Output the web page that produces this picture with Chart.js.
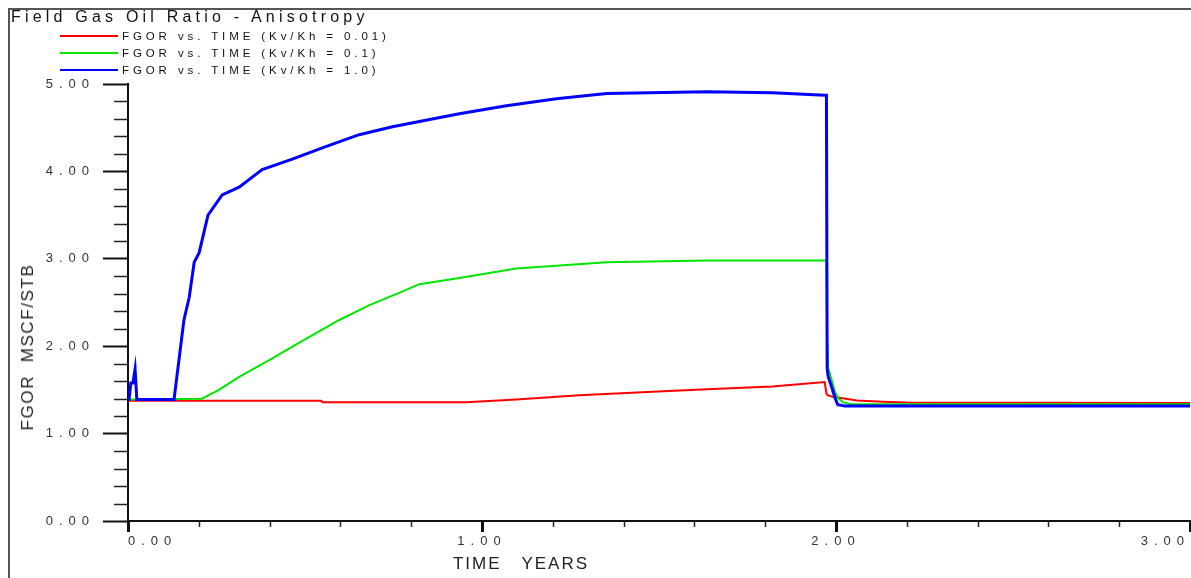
<!DOCTYPE html>
<html>
<head>
<meta charset="utf-8">
<script src="https://cdn.jsdelivr.net/npm/chart.js@4.4.1/dist/chart.umd.min.js"></script>
<style>
  body { margin: 0; background: #fff; font-family: "Liberation Sans", Arial, sans-serif; }
  #wrap { position: relative; width: 1191px; height: 578px; overflow: hidden; }
  #frame { position: absolute; left: 8px; top: 8px; width: 1300px; height: 700px;
           border-left: 2px solid #555; border-top: 2px solid #555; }
  #title { position: absolute; left: 11px; top: 8px; font-size: 16px; letter-spacing: 4.2px;
           color: #111; white-space: pre; }
  .leg { position: absolute; left: 60px; height: 16px; white-space: pre; font-size: 11.5px;
         letter-spacing: 3.9px; color: #111; line-height: 16px; }
  .leg span { display: inline-block; width: 58px; height: 2px; vertical-align: middle;
              margin-right: 4px; position: relative; top: -1px; }
  #ytitle { position: absolute; left: 28px; top: 347px; font-size: 17px; letter-spacing: 1.6px;
            color: #222; white-space: pre; transform: translate(-50%, -50%) rotate(-90deg); }
  #xtitle { position: absolute; left: 521px; top: 564px; font-size: 17px; letter-spacing: 2px;
            color: #222; white-space: pre; transform: translate(-50%, -50%); }
  canvas { position: absolute; left: 0; top: 0; }
</style>
</head>
<body>
<div id="wrap">
  <div id="frame"></div>
  <canvas id="fgorChart" width="1191" height="578"></canvas>
  <div id="title"></div>
  <div id="legend"></div>
  <div id="ytitle"></div>
  <div id="xtitle"></div>
</div>
<script>
const chartTitle = 'Field Gas Oil Ratio - Anisotropy';
const xAxisTitle = 'TIME   YEARS';
const yAxisTitle = 'FGOR  MSCF/STB';

const seriesLabels = [
  'FGOR vs. TIME (Kv/Kh = 0.01)',
  'FGOR vs. TIME (Kv/Kh = 0.1)',
  'FGOR vs. TIME (Kv/Kh = 1.0)'
];
const seriesColors = ['#ff0000', '#00e600', '#0000ff'];

// Kv/Kh = 0.01
const redTime = [0, 0.545, 0.55, 0.955, 1.097, 1.275, 1.482, 1.652, 1.82, 1.968,
                 1.973, 1.976, 1.991, 2.01, 2.059, 2.132, 2.2, 3.0];
const redFgor = [1.375, 1.375, 1.36, 1.36, 1.39, 1.44, 1.48, 1.51, 1.54, 1.59,
                 1.46, 1.44, 1.42, 1.41, 1.38, 1.365, 1.355, 1.35];

// Kv/Kh = 0.1
const greenTime = [0, 0.209, 0.257, 0.314, 0.399, 0.484, 0.597, 0.682, 0.766, 0.823,
                   0.936, 1.097, 1.352, 1.635, 1.973, 1.975, 1.978, 1.988, 1.997, 2.005,
                   2.02, 2.04, 3.0];
const greenFgor = [1.39, 1.40, 1.50, 1.65, 1.84, 2.04, 2.30, 2.47, 2.61, 2.71,
                   2.78, 2.89, 2.96, 2.98, 2.98, 2.10, 1.75, 1.61, 1.48, 1.41,
                   1.36, 1.335, 1.335];

// Kv/Kh = 1.0
const blueTime = [0, 0.003, 0.008, 0.014, 0.020, 0.025, 0.130, 0.158, 0.173, 0.187,
                  0.201, 0.226, 0.266, 0.314, 0.379, 0.464, 0.549, 0.653, 0.747, 0.823,
                  0.936, 1.069, 1.21, 1.352, 1.635, 1.82, 1.968, 1.973, 1.975, 1.978,
                  1.988, 1.997, 2.005, 2.025, 3.0];
const blueFgor = [1.39, 1.39, 1.58, 1.58, 1.74, 1.39, 1.39, 2.30, 2.56, 2.96,
                  3.07, 3.50, 3.73, 3.82, 4.02, 4.14, 4.27, 4.42, 4.51, 4.57,
                  4.66, 4.75, 4.83, 4.89, 4.91, 4.90, 4.87, 4.87, 1.75, 1.65,
                  1.53, 1.41, 1.33, 1.315, 1.315];

const xMin = 0, xMax = 3, yMin = 0, yMax = 5;
const minorStep = 0.2;

function toPoints(t, v) {
    return t.map((x, i) => ({ x: x, y: v[i] }));
}

document.getElementById('title').textContent = chartTitle;
document.getElementById('xtitle').textContent = xAxisTitle;
document.getElementById('ytitle').textContent = yAxisTitle;

// legend rows
const legendBox = document.getElementById('legend');
seriesLabels.forEach((label, i) => {
    const row = document.createElement('div');
    row.className = 'leg';
    row.style.top = (28 + i * 17) + 'px';
    const line = document.createElement('span');
    line.style.background = seriesColors[i];
    row.appendChild(line);
    row.appendChild(document.createTextNode(label));
    legendBox.appendChild(row);
});

// short minor ticks every 0.2 on both axes
const minorTicks = {
    id: 'minorTicks',
    beforeDraw(chart) {
        chart.ctx.letterSpacing = '6px';
    },
    afterDraw(chart) {
        const { ctx, scales: { x, y } } = chart;
        ctx.save();
        ctx.strokeStyle = '#222';
        ctx.lineWidth = 1.5;
        for (let v = yMin + minorStep; v < yMax; v += minorStep) {
            if (Math.abs(v - Math.round(v)) < 1e-6) continue;
            const py = Math.round(y.getPixelForValue(v)) + 0.5;
            ctx.beginPath();
            ctx.moveTo(x.left - 14, py);
            ctx.lineTo(x.left, py);
            ctx.stroke();
        }
        for (let v = xMin + minorStep; v < xMax; v += minorStep) {
            if (Math.abs(v - Math.round(v)) < 1e-6) continue;
            const px = Math.round(x.getPixelForValue(v)) + 0.5;
            ctx.beginPath();
            ctx.moveTo(px, y.bottom);
            ctx.lineTo(px, y.bottom + 6);
            ctx.stroke();
        }
        ctx.restore();
    }
};

const ctx = document.getElementById('fgorChart').getContext('2d');
const fgorChart = new Chart(ctx, {
    type: 'line',
    data: {
        datasets: [
            { label: seriesLabels[0], data: toPoints(redTime, redFgor), borderColor: seriesColors[0], borderWidth: 2, order: 3 },
            { label: seriesLabels[1], data: toPoints(greenTime, greenFgor), borderColor: seriesColors[1], borderWidth: 2, order: 2 },
            { label: seriesLabels[2], data: toPoints(blueTime, blueFgor), borderColor: seriesColors[2], borderWidth: 3, order: 1 }
        ]
    },
    options: {
        responsive: false,
        animation: false,
        elements: {
            point: { radius: 0 },
            line: { tension: 0, borderJoinStyle: 'miter', fill: false }
        },
        layout: { padding: { left: 10, top: 84, right: 1, bottom: 10 } },
        plugins: {
            legend: { display: false },
            title: { display: false },
            tooltip: { enabled: false }
        },
        scales: {
            x: {
                type: 'linear',
                min: xMin,
                max: xMax,
                afterFit: (scale) => { scale.height = 47; scale.paddingLeft = 0; scale.paddingRight = 0; },
                ticks: {
                    stepSize: 1,
                    align: 'inner',
                    maxRotation: 0,
                    padding: 2,
                    color: '#333',
                    font: { family: 'Liberation Sans', size: 13 },
                    callback: (v) => v.toFixed(2)
                },
                grid: { drawOnChartArea: false, tickLength: 11, tickWidth: 3, tickColor: '#111' },
                border: { color: '#111', width: 2 }
            },
            y: {
                type: 'linear',
                min: yMin,
                max: yMax,
                afterFit: (scale) => { scale.width = 118; },
                ticks: {
                    stepSize: 1,
                    padding: 8,
                    color: '#333',
                    font: { family: 'Liberation Sans', size: 13 },
                    callback: (v) => v.toFixed(2)
                },
                grid: { drawOnChartArea: false, tickLength: 25, tickWidth: 2, tickColor: '#111' },
                border: { color: '#111', width: 2 }
            }
        }
    },
    plugins: [minorTicks]
});
</script>
</body>
</html>
